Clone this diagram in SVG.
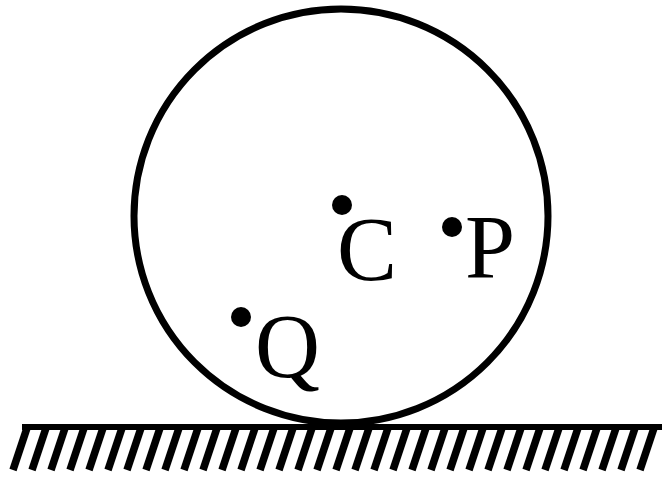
<svg xmlns="http://www.w3.org/2000/svg" width="662" height="480" viewBox="0 0 662 480">
<style>
.lbl{font-family:"Liberation Serif","Times New Roman",serif;font-size:90px;fill:#000}
.dot{fill:#000}
.hatch{stroke:#000;stroke-width:7.5}
</style>
<rect width="662" height="480" fill="#fff"/>
<g id="ground">
<line x1="22" y1="427" x2="662" y2="427" stroke="#000" stroke-width="6"/>
<g class="hatch">
<line x1="27" y1="428" x2="13" y2="470"/>
<line x1="46" y1="428" x2="32" y2="470"/>
<line x1="65" y1="428" x2="51" y2="470"/>
<line x1="84" y1="428" x2="70" y2="470"/>
<line x1="103" y1="428" x2="89" y2="470"/>
<line x1="122" y1="428" x2="108" y2="470"/>
<line x1="141" y1="428" x2="127" y2="470"/>
<line x1="160" y1="428" x2="146" y2="470"/>
<line x1="179" y1="428" x2="165" y2="470"/>
<line x1="198" y1="428" x2="184" y2="470"/>
<line x1="217" y1="428" x2="203" y2="470"/>
<line x1="236" y1="428" x2="222" y2="470"/>
<line x1="255" y1="428" x2="241" y2="470"/>
<line x1="274" y1="428" x2="260" y2="470"/>
<line x1="293" y1="428" x2="279" y2="470"/>
<line x1="312" y1="428" x2="298" y2="470"/>
<line x1="331" y1="428" x2="317" y2="470"/>
<line x1="350" y1="428" x2="336" y2="470"/>
<line x1="369" y1="428" x2="355" y2="470"/>
<line x1="388" y1="428" x2="374" y2="470"/>
<line x1="407" y1="428" x2="393" y2="470"/>
<line x1="426" y1="428" x2="412" y2="470"/>
<line x1="445" y1="428" x2="431" y2="470"/>
<line x1="464" y1="428" x2="450" y2="470"/>
<line x1="483" y1="428" x2="469" y2="470"/>
<line x1="502" y1="428" x2="488" y2="470"/>
<line x1="521" y1="428" x2="507" y2="470"/>
<line x1="540" y1="428" x2="526" y2="470"/>
<line x1="559" y1="428" x2="545" y2="470"/>
<line x1="578" y1="428" x2="564" y2="470"/>
<line x1="597" y1="428" x2="583" y2="470"/>
<line x1="616" y1="428" x2="602" y2="470"/>
<line x1="635" y1="428" x2="621" y2="470"/>
<line x1="654" y1="428" x2="640" y2="470"/>
</g>
</g>
<g id="wheel">
<circle cx="341" cy="216" r="207" fill="none" stroke="#000" stroke-width="7"/>
</g>
<g id="C">
<circle class="dot" cx="342" cy="205" r="10"/>
<text class="lbl" x="337" y="280">C</text>
</g>
<g id="P">
<circle class="dot" cx="452" cy="227" r="10"/>
<text class="lbl" x="465" y="278">P</text>
</g>
<g id="Q">
<circle class="dot" cx="241" cy="317" r="10"/>
<text class="lbl" x="255" y="377">Q</text>
</g>
</svg>
